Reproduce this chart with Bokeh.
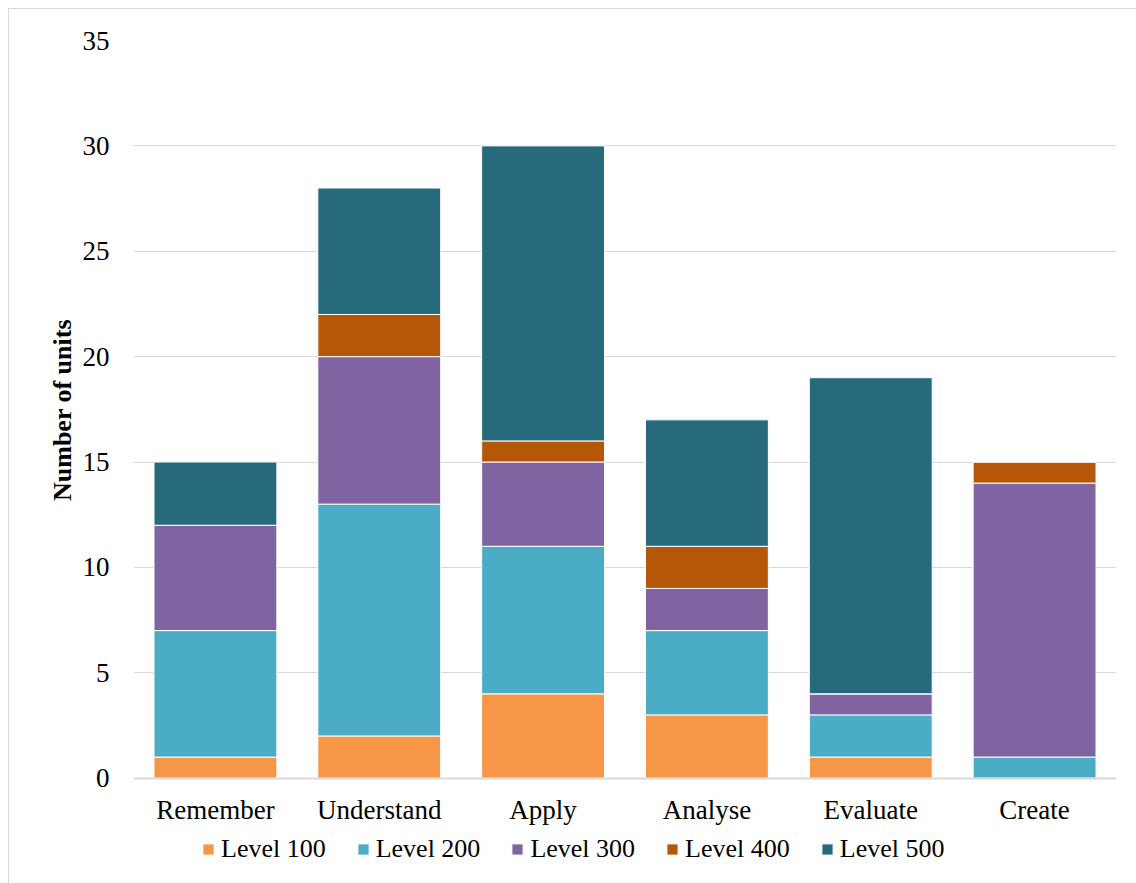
from bokeh.plotting import figure
from bokeh.models import ColumnDataSource, FactorRange, Range1d, Legend, LegendItem
from bokeh.embed import file_html
from bokeh.resources import INLINE

categories = ["Remember", "Understand", "Apply", "Analyse", "Evaluate", "Create"]
series = ["Level 100", "Level 200", "Level 300", "Level 400", "Level 500"]
level_100 = [1, 2, 4, 3, 1, 0]
level_200 = [6, 11, 7, 4, 2, 1]
level_300 = [5, 7, 4, 2, 1, 13]
level_400 = [0, 2, 1, 2, 0, 1]
level_500 = [3, 6, 14, 6, 15, 0]
colors = ["#F79646", "#4BACC6", "#8064A2", "#B65708", "#276A7C"]
y_ticks = [0, 5, 10, 15, 20, 25, 30, 35]
y_title = "Number of units"

FONT = "Liberation Serif"
FS = "27px"

source = ColumnDataSource(data={
    "cat": categories,
    "Level 100": level_100,
    "Level 200": level_200,
    "Level 300": level_300,
    "Level 400": level_400,
    "Level 500": level_500,
})

# frame extends below zero so the legend can sit inside it
p = figure(
    x_range=FactorRange(*categories, range_padding=0),
    y_range=Range1d(-5, 35),
    frame_width=983, frame_height=843,
    min_border_left=124, min_border_right=20,
    min_border_top=31, min_border_bottom=0,
    output_backend="svg", toolbar_location=None,
    background_fill_color="white", border_fill_color="white",
    outline_line_color=None,
    margin=(8, 0, 0, 8),
    styles={"border-left": "1px solid #D9D9D9", "border-top": "1px solid #D9D9D9"},
)

renderers = p.vbar_stack(series, x="cat", width=0.75, source=source,
                         color=colors, line_color="white", line_width=1)

legend = Legend(
    items=[LegendItem(label=s, renderers=[r]) for s, r in zip(series, renderers)],
    orientation="horizontal",
    location=(68, 19),
    glyph_width=14, glyph_height=14,
    label_standoff=6, spacing=30,
    padding=0, margin=0,
    border_line_alpha=0, background_fill_alpha=0,
    label_text_font=FONT, label_text_font_size="26px", label_text_color="black",
)
p.add_layout(legend, "center")

p.yaxis.ticker = y_ticks
p.yaxis.bounds = (0, 35)
p.xgrid.grid_line_color = None
p.ygrid.grid_line_color = "#D9D9D9"
p.ygrid.grid_line_width = 1

p.yaxis.axis_line_color = None
p.yaxis.major_tick_line_color = None
p.yaxis.minor_tick_line_color = None
p.yaxis.major_label_standoff = 18
p.yaxis.major_label_text_font = FONT
p.yaxis.major_label_text_font_size = FS
p.yaxis.major_label_text_color = "black"
# leading no-break spaces lift the visible title to the centre of the 0-35 span
p.yaxis.axis_label = "\u00a0" * 16 + y_title
p.yaxis.axis_label_text_font = FONT
p.yaxis.axis_label_text_font_size = "26px"
p.yaxis.axis_label_text_font_style = "bold"
p.yaxis.axis_label_text_color = "black"
p.yaxis.axis_label_standoff = 3

p.xaxis.fixed_location = 0
p.xaxis.axis_line_color = "#D9D9D9"
p.xaxis.axis_line_width = 2
p.xaxis.major_tick_line_color = None
p.xaxis.minor_tick_line_color = None
p.xaxis.major_label_standoff = 11
p.xaxis.major_label_text_font = FONT
p.xaxis.major_label_text_font_size = FS
p.xaxis.major_label_text_color = "black"

open("out.html", "w").write(file_html(p, INLINE))
